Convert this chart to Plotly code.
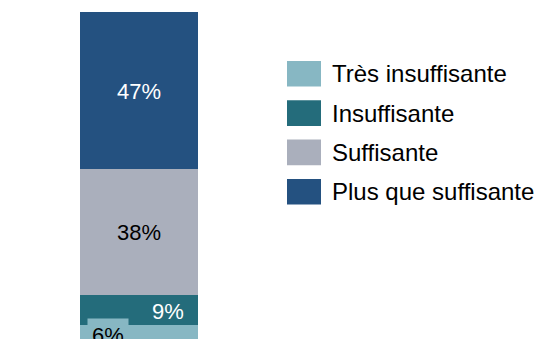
import plotly.graph_objects as go

# Survey result: share of respondents per rating level (percent)
categories = ["Très insuffisante", "Insuffisante", "Suffisante", "Plus que suffisante"]
values = [6, 9, 38, 47]
colors = ["#87B7C3", "#246C7B", "#AAAFBC", "#245180"]
label_colors = ["black", "white", "black", "white"]
label_xshift = [-31, 29, 0, 0]
label_boxed = [True, False, False, False]

W, H = 539, 339

fig = go.Figure()
for cat, val, col in zip(categories, values, colors):
    fig.add_trace(go.Bar(x=[0], y=[val], name=cat, marker=dict(color=col, line=dict(width=0)),
                         width=1, showlegend=False, hoverinfo="skip"))

# Value labels placed at the middle of each stacked segment
base = 0
for val, col, tcol, dx, boxed in zip(values, colors, label_colors, label_xshift, label_boxed):
    fig.add_annotation(x=0, y=base + val / 2, xref="x", yref="y", text=f"{val}%",
                       showarrow=False, xshift=dx, yshift=0 if boxed else -1,
                       bgcolor=col if boxed else "rgba(0,0,0,0)", borderpad=4,
                       font=dict(family="Liberation Sans, Arial", size=22, color=tcol))
    base += val

# Legend drawn as large colour swatches with text
row0, step = 73.8, 39.3
for i, (cat, col) in enumerate(zip(categories, colors)):
    cy = row0 + i * step
    fig.add_shape(type="rect", xref="paper", yref="paper",
                  x0=287 / W, x1=321 / W, y0=1 - (cy - 12.8) / H, y1=1 - (cy + 12.8) / H,
                  fillcolor=col, line=dict(width=0))
    fig.add_annotation(x=330 / W, y=1 - cy / H, xref="paper", yref="paper", text=cat,
                       showarrow=False, xanchor="left", yanchor="middle",
                       font=dict(family="Liberation Sans, Arial", size=24, color="black"))

fig.update_layout(
    barmode="stack",
    width=W, height=H,
    margin=dict(l=0, r=0, t=0, b=0),
    paper_bgcolor="white", plot_bgcolor="white",
    xaxis=dict(domain=[80 / W, 198 / W], range=[-0.5, 0.5], visible=False, fixedrange=True),
    yaxis=dict(domain=[0, 1 - 12 / H], range=[1.8, 100], visible=False, fixedrange=True),
)

fig.write_html("out.html")
